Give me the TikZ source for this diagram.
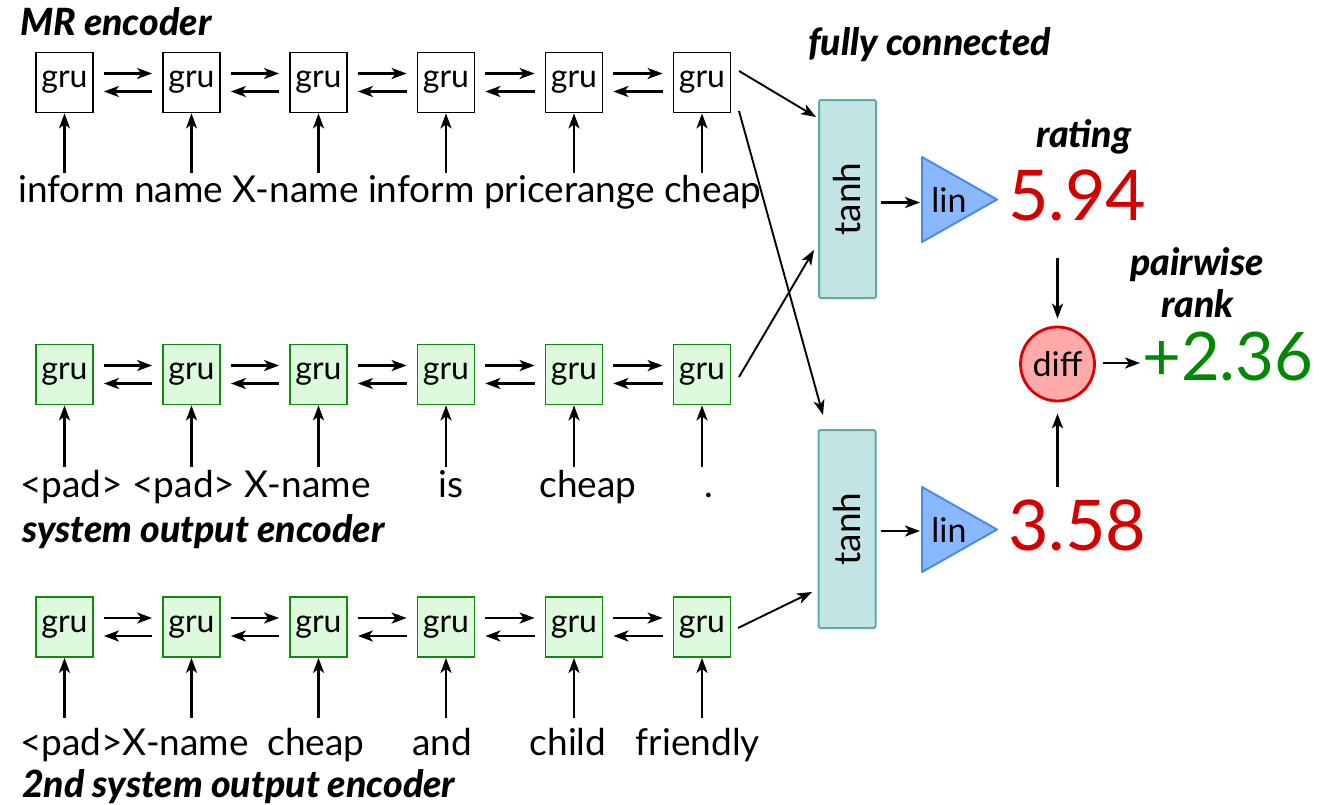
\documentclass[tikz,border=0pt]{standalone}
\usepackage{fontspec}
\setmainfont{Lato}
\newfontfamily\lbl{Lato Black Italic}
\usetikzlibrary{arrows.meta,calc}
\definecolor{grufill}{HTML}{DDFADD}
\definecolor{gruline}{HTML}{108A10}
\definecolor{fcfill}{HTML}{C2E4E4}
\definecolor{fcline}{HTML}{5FA9A9}
\definecolor{linfill}{HTML}{8AB8FF}
\definecolor{linline}{HTML}{4A8AF0}
\definecolor{difffill}{HTML}{FFAAAA}
\definecolor{diffline}{HTML}{DD0000}
\definecolor{score}{HTML}{D40000}
\definecolor{gain}{HTML}{008800}
\begin{document}
\begin{tikzpicture}[x=1pt,y=-1pt,
  arr/.style={-{Stealth[length=15pt,width=11pt,inset=4pt]}, line width=2.5pt},
  thinarr/.style={-{Stealth[length=15pt,width=11pt,inset=4pt]}, line width=1.9pt},
  cell/.style={draw, line width=1.8pt, minimum width=57pt, minimum height=60pt,
    inner sep=0pt, font=\fontsize{32}{32}\selectfont},
  mrcell/.style={cell, fill=white},
  sycell/.style={cell, draw=gruline, fill=grufill},
  word/.style={inner sep=0pt, font=\fontsize{37}{37}\selectfont},
  tag/.style={inner sep=0pt, anchor=base west, font=\fontsize{37.5}{37.5}\selectfont\lbl},
  fc/.style={draw=fcline, fill=fcfill, line width=2pt, rounded corners=2pt,
    minimum width=57pt, minimum height=198pt, inner sep=0pt},
  linshape/.style={draw=linline, fill=linfill, line width=2pt, line join=round},
  num/.style={inner sep=0pt, anchor=base west, font=\fontsize{70}{70}\selectfont},
]
\useasboundingbox (0,0) rectangle (1319,804);

% three bidirectional GRU chains
\foreach \i/\x in {1/64.5,2/191.5,3/318.5,4/446,5/574,6/702}{
  \node[mrcell] (a\i) at (\x,82.5) {gru};
  \node[sycell] (b\i) at (\x,374.5) {gru};
  \node[sycell] (c\i) at (\x,627) {gru};
  \coordinate (ia\i) at (\x,173);
  \coordinate (ib\i) at (\x,467);
  \coordinate (ic\i) at (\x,718);
  \draw[arr] (ia\i) -- (a\i);
  \draw[arr] (ib\i) -- (b\i);
  \draw[arr] (ic\i) -- (c\i);
}
\foreach \r in {a,b,c}{
  \foreach \i [evaluate=\i as \j using int(\i+1)] in {1,...,5}{
    \draw[arr] ([xshift=10pt,yshift=9pt]\r\i.east) -- ([xshift=-10pt,yshift=9pt]\r\j.west);
    \draw[arr] ([xshift=-10pt,yshift=-9pt]\r\j.west) -- ([xshift=10pt,yshift=-9pt]\r\i.east);
  }
}

% input tokens
\node[word, anchor=base west] (wa) at (18,202) {inform name X-name inform pricerange cheap};
\node[word, anchor=base west] (wb1) at (20,497) {<pad> <pad> X-name};
\node[word, anchor=base] (wb4) at (451,497) {is};
\node[word, anchor=base] (wb5) at (588,497) {cheap};
\node[word, anchor=base] (wb6) at (709,497) {.};
\node[word, anchor=base west] (wc1) at (20,755) {<pad>X-name};
\node[word, anchor=base] (wc3) at (316,755) {cheap};
\node[word, anchor=base] (wc4) at (442,755) {and};
\node[word, anchor=base] (wc5) at (568,755) {child};
\node[word, anchor=base] (wc6) at (698,755) {friendly};

% section titles
\node[tag] (tmr) at (20,35) {MR encoder};
\node[tag] (tsys) at (22,542) {system output encoder};
\node[tag] (tsys2) at (22,797) {2nd system output encoder};
\node[tag] (tfc) at (808,55) {fully connected};
\node[tag] (trat) at (1036,147) {rating};
\node[tag, anchor=base] (tpw) at (1197,275) {pairwise};
\node[tag, anchor=base] (trk) at (1198,317) {rank};

% fully connected layers
\node[fc] (fc1) at (847.5,199) {};
\node[word, rotate=90] at (fc1) {tanh};
\node[fc] (fc2) at (847,529) {};
\node[word, rotate=90] at (fc2) {tanh};

% connections from the encoders
\coordinate (s1) at (739,71);   \coordinate (e1) at (816,117);
\coordinate (s2) at (739,111);  \coordinate (e2) at (823,415);
\coordinate (s3) at (739,377);  \coordinate (e3) at (814,250);
\coordinate (s4) at (738,628);  \coordinate (e4) at (812,592);
\draw[thinarr] (s1) -- (e1);
\draw[thinarr] (s2) -- (e2);
\draw[thinarr] (s3) -- (e3);
\draw[thinarr] (s4) -- (e4);

% linear output units
\draw[linshape] (922,157) -- (997,199.5) -- (922,242) -- cycle;
\node[word, font=\fontsize{34}{34}\selectfont] (lin1) at (949,200) {lin};
\draw[linshape] (922,487) -- (997,529.5) -- (922,572) -- cycle;
\node[word, font=\fontsize{34}{34}\selectfont] (lin2) at (949,530) {lin};
\coordinate (l1) at (920,202.5);
\coordinate (l2) at (920,531);
\draw[arr] (fc1.east |- l1) ++(4,0) -- (l1);
\draw[arr] (fc2.east |- l2) ++(4,0) -- (l2);

% scores and their difference
\node[num, text=score] (r1) at (1008,220) {5.94};
\node[num, text=score] (r2) at (1008,550) {3.58};
\node[circle, draw=diffline, fill=difffill, line width=2.8pt, minimum size=74pt,
  inner sep=0pt, font=\fontsize{34}{34}\selectfont] (diff) at (1057.5,364) {diff};
\node[num, text=gain, font=\fontsize{67}{67}\selectfont] (res) at (1142,380) {+2.36};
\coordinate (d1) at (1057.5,258);
\coordinate (d2) at (1057.5,487);
\draw[arr, shorten >=7pt] (d1) -- (diff);
\draw[arr, shorten >=11pt] (d2) -- (diff);
\coordinate (d3) at (1140,363);
\draw[arr, shorten <=7pt] (diff.east |- d3) -- (d3);
\end{tikzpicture}
\end{document}
